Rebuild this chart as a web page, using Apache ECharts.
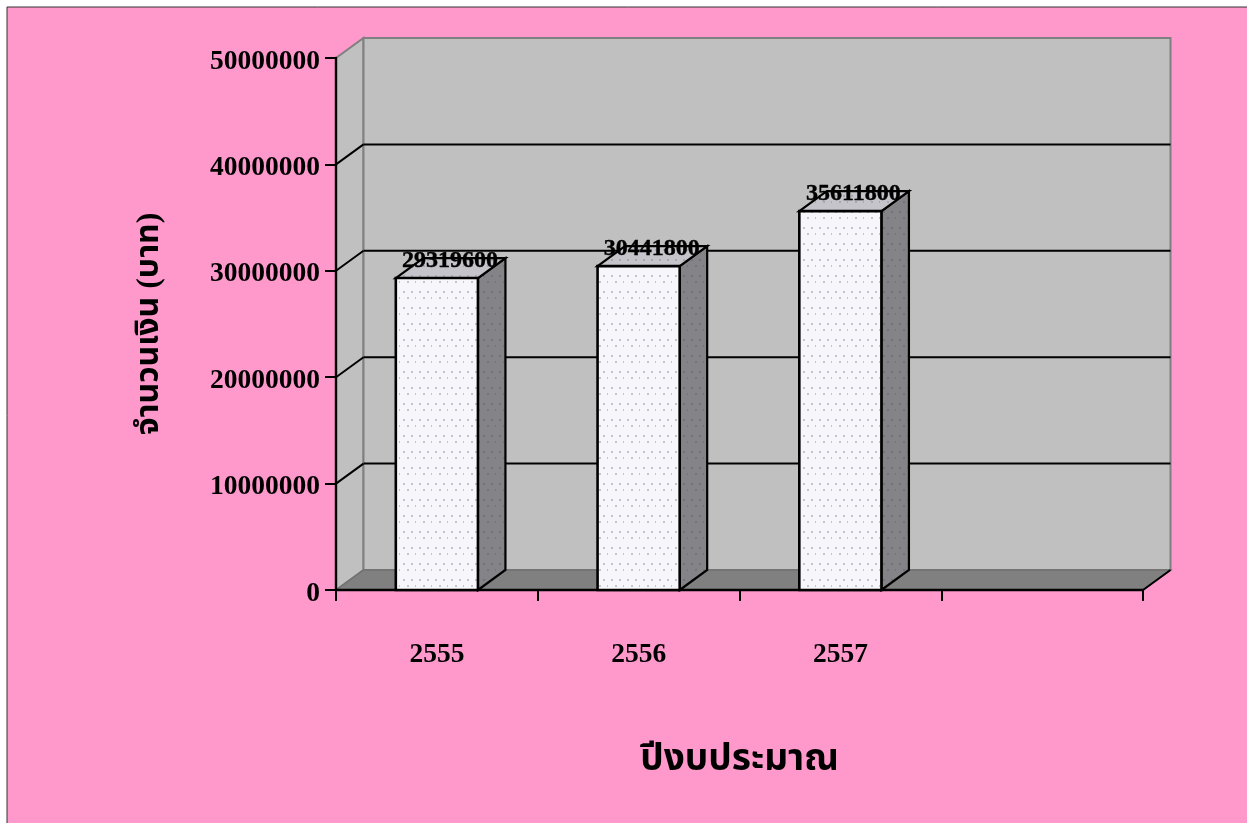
<!DOCTYPE html>
<html>
<head>
<meta charset="utf-8">
<style>html,body{margin:0;padding:0;background:#fff;overflow:hidden}#c{width:1247px;height:823px}</style>
<script src="https://cdn.jsdelivr.net/npm/echarts@6/dist/echarts.min.js"></script>
</head>
<body>
<div id="c"></div>
<script>
const categories = ['2555', '2556', '2557', ''];
const budgetValues = [29319600, 30441800, 35611800];
const yTickValues = [0, 10000000, 20000000, 30000000, 40000000, 50000000];
const xAxisTitle = 'ปีงบประมาณ';
const yAxisTitle = 'จำนวนเงิน (บาท)';

const SERIF = '"Liberation Serif","Noto Sans Thai","Noto Serif Thai","DejaVu Serif",serif';
const DX = 27.5, DY = -20;

function dots(bg, dot) {
  const c = document.createElement('canvas');
  c.width = 16; c.height = 16;
  const g = c.getContext('2d');
  g.fillStyle = bg; g.fillRect(0, 0, 16, 16);
  g.fillStyle = dot;
  [[3, 3], [11, 3], [7, 9], [15, 9]].forEach(p => { g.fillRect(p[0], p[1], 2, 2); });
  return { image: c, repeat: 'repeat' };
}
const frontFill = dots('#f7f7fb', '#c4c4d0');
const sideFill = dots('#848488', '#747478');
const topFill = dots('#c4c4ca', '#a8a8b0');

function poly(points, fill, stroke, lw) {
  return { type: 'polygon', shape: { points }, style: { fill, stroke, lineWidth: lw, lineJoin: 'miter' } };
}
function seg(x1, y1, x2, y2, color, lw) {
  return { type: 'line', shape: { x1, y1, x2, y2 }, style: { stroke: color, lineWidth: lw } };
}

function renderWalls(params) {
  const r = params.coordSys;
  const L = r.x, T = r.y, R = r.x + r.width, B = r.y + r.height;
  return { type: 'group', children: [
    poly([[L, B], [L + DX, B + DY], [L + DX, T + DY], [L, T]], '#c0c0c0', '#808080', 2),
    poly([[L + DX, T + DY], [R + DX, T + DY], [R + DX, B + DY], [L + DX, B + DY]], '#c0c0c0', '#808080', 2),
    poly([[L, B], [L + DX, B + DY], [R + DX, B + DY], [R, B]], '#808080', '#707070', 1.5)
  ] };
}

function renderGridLine(params, api) {
  const r = params.coordSys;
  const y = api.coord([0, api.value(1)])[1];
  const L = r.x, R = r.x + r.width;
  const v = api.value(1);
  if (v === 0) {
    return { type: 'group', children: [seg(R, y, R + DX, y + DY, '#000', 2)] };
  }
  if (v === yTickValues[yTickValues.length - 1]) return { type: 'group', children: [] };
  return { type: 'group', children: [
    seg(L, y, L + DX, y + DY, '#000', 2),
    seg(L + DX, y + DY, R + DX, y + DY, '#000', 2)
  ] };
}

function renderBar(params, api) {
  const top = api.coord([api.value(0), api.value(1)]);
  const base = api.coord([api.value(0), 0]);
  const w = api.size([1, 0])[0] * 0.407;
  const x0 = top[0] - w / 2, x1 = top[0] + w / 2, yt = top[1], yb = base[1];
  return { type: 'group', children: [
    poly([[x1, yb], [x1 + DX, yb + DY], [x1 + DX, yt + DY], [x1, yt]], sideFill, '#000', 2.2),
    poly([[x0, yt], [x0 + DX, yt + DY], [x1 + DX, yt + DY], [x1, yt]], topFill, '#000', 2.2),
    poly([[x0, yt], [x1, yt], [x1, yb], [x0, yb]], frontFill, '#000', 2.6),
    { type: 'text', z2: 20, style: {
      x: top[0] + 13, y: yt - 17, text: String(api.value(1)),
      font: 'bold 24px ' + SERIF, fill: '#000', align: 'center', verticalAlign: 'middle',
      stroke: '#000', lineWidth: 0.4
    } }
  ] };
}

const labelFont = { color: '#000', fontFamily: SERIF, fontWeight: 'bold', fontSize: 27.5 };
const chart = echarts.init(document.getElementById('c'), null, { renderer: 'canvas' });
chart.setOption({
  animation: false,
  backgroundColor: '#fff',
  graphic: [{
    type: 'rect', z: -10, silent: true,
    shape: { x: 7, y: 7, width: 1260, height: 840 },
    style: { fill: '#ff99cc', stroke: '#333', lineWidth: 1 }
  }],
  grid: { left: 336, top: 58, width: 807, height: 532, containLabel: false },
  xAxis: {
    type: 'category', data: categories, z: 5,
    axisLine: { lineStyle: { color: '#000', width: 2.4 } },
    axisTick: { show: true, alignWithLabel: false, length: 11, lineStyle: { color: '#000', width: 2 } },
    axisLabel: Object.assign({ interval: 0, margin: 51 }, labelFont),
    name: xAxisTitle, nameLocation: 'middle', nameGap: 152,
    nameTextStyle: { color: '#000', fontFamily: SERIF, fontWeight: 'bold', fontSize: 37 }
  },
  yAxis: {
    type: 'value', min: 0, max: 50000000, interval: 10000000, z: 5,
    axisLine: { show: true, lineStyle: { color: '#000', width: 2.4 } },
    axisTick: { show: true, length: 11, lineStyle: { color: '#000', width: 2 } },
    axisLabel: Object.assign({
      margin: 16,
      formatter: v => '{n|' + v + '}',
      rich: { n: Object.assign({ padding: [7, 0, 0, 0] }, labelFont) }
    }, labelFont),
    splitLine: { show: false },
    name: yAxisTitle, nameLocation: 'middle', nameRotate: 90, nameGap: 170,
    nameTextStyle: { color: '#000', fontFamily: SERIF, fontWeight: 'bold', fontSize: 32 }
  },
  series: [
    { type: 'custom', z: 1, clip: false, silent: true, renderItem: renderWalls, encode: { x: 0, y: 1 }, data: [[0, 0]] },
    { type: 'custom', z: 2, clip: false, silent: true, renderItem: renderGridLine, encode: { x: 0, y: 1 }, data: yTickValues.map(v => [0, v]) },
    { type: 'custom', z: 8, clip: false, silent: true, renderItem: renderBar, encode: { x: 0, y: 1 }, data: budgetValues.map((v, i) => [i, v]) }
  ]
});
</script>
</body>
</html>
